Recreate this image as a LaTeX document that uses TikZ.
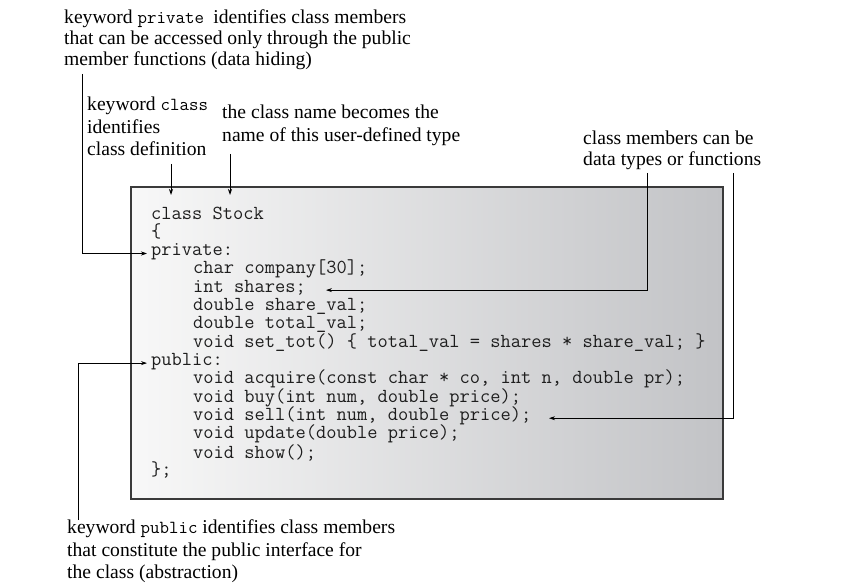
\documentclass[tikz,border=0pt]{standalone}
\usepackage{fontspec}
\setmainfont{Liberation Serif}
\usetikzlibrary{arrows.meta}
\definecolor{boxL}{HTML}{F8F8F8}
\definecolor{boxR}{HTML}{C2C3C6}
\definecolor{boxB}{HTML}{3A3A3A}
\definecolor{codeC}{HTML}{1E1E1E}
\newcommand\kw[1]{{\fontsize{18.4}{18}\selectfont\ttfamily #1}}
\begin{document}
\begin{tikzpicture}[x=1pt,y=-1pt,
  note/.style={font=\fontsize{19.6}{21}\selectfont, anchor=base west, inner sep=0pt},
  code/.style={font=\fontsize{19.9}{18}\selectfont\ttfamily, anchor=base west, inner sep=0pt,
    text=codeC, text height=0.62em, text depth=0.2em},
  conn/.style={draw=black, line width=0.8pt},
  arr/.style={conn, -{Stealth[length=6pt,width=4pt]}},
  codebox/.style={draw=boxB, line width=2.4pt, left color=boxL, right color=boxR}]
\useasboundingbox (0,0) rectangle (859,588);

% code box
\path[codebox] (131,187) rectangle (723,499);

% code lines
\node[code] (l0)  at (151,219.0) {class Stock};
\node[code] (l1)  at (151,237.3) {\{};
\node[code] (private) at (151,255.6) {private:};
\node[code] (l3)  at (193,273.9) {char company[30];};
\node[code] (shares) at (193,292.2) {int shares;};
\node[code] (l5)  at (193,310.5) {double share\_val;};
\node[code] (l6)  at (193,328.8) {double total\_val;};
\node[code] (l7)  at (193,347.1) {void set\_tot() \{ total\_val = shares * share\_val; \}};
\node[code] (public) at (151,365.2) {public:};
\node[code] (l9)  at (193,383.7) {void acquire(const char * co, int n, double pr);};
\node[code] (l10) at (193,402.0) {void buy(int num, double price);};
\node[code] (sell) at (193,420.3) {void sell(int num, double price);};
\node[code] (l12) at (193,438.6) {void update(double price);};
\node[code] (l13) at (193,458.1) {void show();};
\node[code] (l14) at (151,475.2) {\};};

% annotation: private
\node[note] (pv1) at (64,23.5) {keyword \kw{private }identifies class members};
\node[note] (pv2) at (64,44.5) {that can be accessed only through the public};
\node[note] (pv3) at (64,65.5) {member functions (data hiding)};

% annotation: keyword class
\node[note] (kc1) at (87,111) {keyword \kw{class}};
\node[note] (kc2) at (87,134) {identifies};
\node[note] (kc3) at (87,156) {class definition};

% annotation: class name
\node[note] (cn1) at (222,118.5) {the class name becomes the};
\node[note] (cn2) at (222,141.5) {name of this user-defined type};

% annotation: class members
\node[note] (cm1) at (583,145) {class members can be};
\node[note] (cm2) at (583,165.5) {data types or functions};

% annotation: public
\node[note] (pb1) at (67,533.5) {keyword \kw{public} identifies class members};
\node[note] (pb2) at (67,556.5) {that constitute the public interface for};
\node[note] (pb3) at (67,578.5) {the class (abstraction)};

% connector anchor points
\coordinate (pvsrc) at (82,74);
\coordinate (kcsrc) at (171,164);
\coordinate (kcdst) at (171,195);
\coordinate (cnsrc) at (230,154);
\coordinate (cndst) at (230,195);
\coordinate (cmsrcA) at (647,173);
\coordinate (cmsrcB) at (733,173);
\coordinate (pbsrc) at (78,520);
\coordinate (pvtip) at (147,0);
\coordinate (pbtip) at (147,0);
\coordinate (shtip) at (326,0);
\coordinate (sltip) at (549,0);

% connectors
\draw[arr] (pvsrc) |- (pvtip |- private.west);
\draw[arr] (kcsrc) -- (kcdst);
\draw[arr] (cnsrc) -- (cndst);
\draw[arr] (cmsrcA) |- (shtip |- shares.east);
\draw[arr] (cmsrcB) |- (sltip |- sell.east);
\draw[arr] (pbsrc) |- (pbtip |- public.west);
\end{tikzpicture}
\end{document}
